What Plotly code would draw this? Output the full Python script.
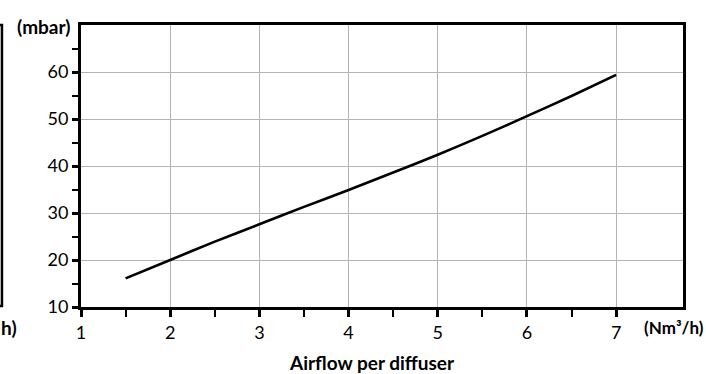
import plotly.graph_objects as go

# Data
airflow = [1.5, 2.0, 2.5, 3.0, 3.5, 4.0, 4.5, 5.0, 5.5, 6.0, 6.5, 7.0]
pressure = [16.1, 20.0, 23.9, 27.6, 31.3, 34.9, 38.6, 42.4, 46.4, 50.6, 54.9, 59.4]

x_ticks = [1, 2, 3, 4, 5, 6, 7]
x_tick_labels = ["1", "2", "3", "4", "5", "6", "7"]
y_ticks = [10, 20, 30, 40, 50, 60]
y_tick_labels = ["10", "20", "30", "40", "50", "60"]

FONT = "Lato"

fig = go.Figure()
fig.add_trace(go.Scatter(
    x=airflow, y=pressure, mode="lines",
    line=dict(color="black", width=2.6, shape="spline", smoothing=0.6),
    hoverinfo="skip", showlegend=False,
))

fig.update_layout(
    width=706, height=374,
    margin=dict(l=81, r=23, t=25, b=67),
    paper_bgcolor="white", plot_bgcolor="white",
    font=dict(family=FONT, color="black", size=18),
    showlegend=False,
    xaxis=dict(
        range=[1, 7.75], tickmode="array", tickvals=x_ticks, ticktext=x_tick_labels,
        showgrid=True, gridcolor="#b4b4b4", gridwidth=1.3,
        showline=True, linecolor="black", linewidth=3, mirror=True,
        ticks="outside", ticklen=7, tickwidth=3, tickcolor="black",
        tickfont=dict(size=18, family=FONT),
        minor=dict(tickvals=[1.5, 2.5, 3.5, 4.5, 5.5, 6.5], ticks="outside",
                   ticklen=7, tickwidth=1.5, tickcolor="black", showgrid=False),
        zeroline=False, fixedrange=True,
    ),
    yaxis=dict(
        range=[10, 70], tickmode="array", tickvals=y_ticks, ticktext=y_tick_labels,
        showgrid=True, gridcolor="#b4b4b4", gridwidth=1.3,
        showline=True, linecolor="black", linewidth=3, mirror=True,
        ticks="outside", ticklen=6, tickwidth=3, tickcolor="black",
        tickfont=dict(size=18, family=FONT),
        minor=dict(tickvals=[15, 25, 35, 45, 55, 65], ticks="outside",
                   ticklen=6, tickwidth=1.5, tickcolor="black", showgrid=False),
        zeroline=False, fixedrange=True,
    ),
)

# Axis unit labels and title
fig.add_annotation(text="<b>(mbar)</b>", xref="paper", yref="paper",
                   x=-0.015, y=1.0, xanchor="right", yanchor="middle",
                   showarrow=False, font=dict(size=19, family=FONT), yshift=-1)
fig.add_annotation(text="<b>(Nm³/h)</b>", xref="paper", yref="paper",
                   x=0.932, y=0, xanchor="left", yanchor="top",
                   showarrow=False, font=dict(size=17, family=FONT), yshift=-8)
fig.add_annotation(text="<b>Airflow per diffuser</b>", xref="paper", yref="paper",
                   x=0.483, y=0, xanchor="center", yanchor="top",
                   showarrow=False, font=dict(size=19, family=FONT), yshift=-42)
# Fragment of neighbouring chart at far left
fig.add_annotation(text="<b>h)</b>", xref="paper", yref="paper",
                   x=-0.136, y=0, xanchor="left", yanchor="top",
                   showarrow=False, font=dict(size=19, family=FONT), yshift=-7)
fig.add_shape(type="path", xref="paper", yref="paper",
              path="M -0.15,1 L -0.1313,1 L -0.1313,0.0035 L -0.15,0.0035",
              line=dict(color="black", width=2.5))

fig.write_html("out.html", config={"displayModeBar": False},
               post_script="document.body.style.margin='0';document.body.style.padding='0';")
